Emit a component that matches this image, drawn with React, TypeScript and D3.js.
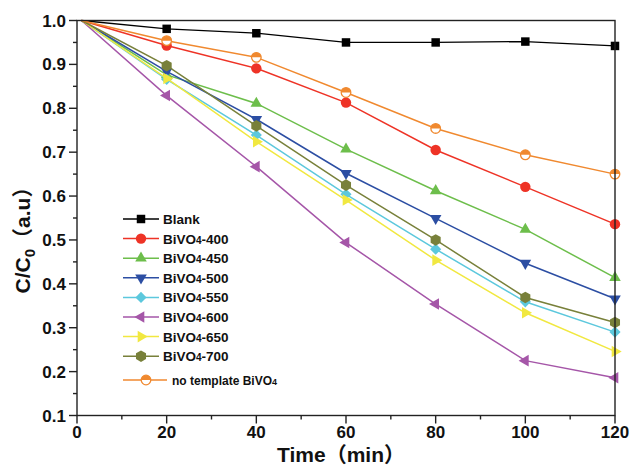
import React from 'react';
import * as d3 from 'd3';

const times = [1, 20, 40, 60, 80, 100, 120];
const blank = [1.0, 0.981, 0.971, 0.95, 0.95, 0.952, 0.942];
const b400 = [1.0, 0.943, 0.891, 0.813, 0.705, 0.621, 0.536];
const b450 = [1.0, 0.876, 0.811, 0.707, 0.612, 0.524, 0.414];
const b500 = [1.0, 0.884, 0.775, 0.652, 0.549, 0.447, 0.366];
const b550 = [1.0, 0.866, 0.739, 0.604, 0.479, 0.359, 0.29];
const b600 = [1.0, 0.829, 0.667, 0.494, 0.354, 0.225, 0.186];
const b650 = [1.0, 0.868, 0.724, 0.591, 0.454, 0.334, 0.246];
const b700 = [1.0, 0.897, 0.76, 0.625, 0.5, 0.369, 0.312];
const noTemplate = [1.0, 0.954, 0.916, 0.836, 0.754, 0.694, 0.65];

const xTicks = [0, 20, 40, 60, 80, 100, 120];
const xMinor = [10, 30, 50, 70, 90, 110];
const yTicks = [0.1, 0.2, 0.3, 0.4, 0.5, 0.6, 0.7, 0.8, 0.9, 1.0];
const yMinor = [0.15, 0.25, 0.35, 0.45, 0.55, 0.65, 0.75, 0.85, 0.95];

type S = { name: string; sub?: string; tail?: string; values: number[]; color: string; marker: string };
const series: S[] = [
  { name: 'Blank', values: blank, color: '#000000', marker: 'square' },
  { name: 'BiVO', sub: '4', tail: '-400', values: b400, color: '#EE3326', marker: 'circle' },
  { name: 'BiVO', sub: '4', tail: '-450', values: b450, color: '#6DBE4B', marker: 'triUp' },
  { name: 'BiVO', sub: '4', tail: '-500', values: b500, color: '#2C4EA3', marker: 'triDown' },
  { name: 'BiVO', sub: '4', tail: '-550', values: b550, color: '#5CC8DD', marker: 'diamond' },
  { name: 'BiVO', sub: '4', tail: '-600', values: b600, color: '#A556A8', marker: 'triLeft' },
  { name: 'BiVO', sub: '4', tail: '-650', values: b650, color: '#F1E840', marker: 'triRight' },
  { name: 'BiVO', sub: '4', tail: '-700', values: b700, color: '#78803A', marker: 'hexagon' },
  { name: 'no template BiVO', sub: '4', tail: '', values: noTemplate, color: '#F0892F', marker: 'half' },
];

const FONT = "'Liberation Sans', Arial, 'Noto Sans CJK SC', sans-serif";

const L = 77, R = 615, T = 20.5, B = 415.5;
const x = d3.scaleLinear().domain([0, 120]).range([L, R]);
const y = d3.scaleLinear().domain([0.1, 1.0]).range([B, T]);

function Marker({ kind, color, cx, cy }: { kind: string; color: string; cx: number; cy: number }) {
  const tr = `translate(${cx},${cy})`;
  const tri = d3.symbol().type(d3.symbolTriangle).size(58)() as string;
  if (kind === 'square') {
    return <path d={d3.symbol().type(d3.symbolSquare).size(72)() as string} transform={tr} fill={color} />;
  }
  if (kind === 'circle') {
    return <circle cx={cx} cy={cy} r={5.2} fill={color} />;
  }
  if (kind === 'triUp') return <path d={tri} transform={tr} fill={color} />;
  if (kind === 'triDown') return <path d={tri} transform={`${tr} rotate(180)`} fill={color} />;
  if (kind === 'triLeft') return <path d={tri} transform={`${tr} rotate(-90)`} fill={color} />;
  if (kind === 'triRight') return <path d={tri} transform={`${tr} rotate(90)`} fill={color} />;
  if (kind === 'diamond') {
    return <path d={d3.symbol().type(d3.symbolSquare).size(62)() as string} transform={`${tr} rotate(45)`} fill={color} />;
  }
  if (kind === 'hexagon') {
    const r = 5.8;
    const pts = d3.range(6).map((i) => {
      const a = (Math.PI / 3) * i + Math.PI / 6;
      return [r * Math.cos(a), r * Math.sin(a)];
    });
    return <path d={'M' + pts.map((p) => p.join(',')).join('L') + 'Z'} transform={tr} fill={color} />;
  }
  // half-filled circle
  const r = 4.8;
  return (
    <g transform={tr}>
      <circle r={r} fill="#fff" stroke={color} strokeWidth={1.3} />
      <path d={`M${-r},0 A${r},${r} 0 0 1 ${r},0 Z`} fill={color} />
    </g>
  );
}

export default function App() {
  const line = d3
    .line<number>()
    .x((_, i) => x(times[i]))
    .y((d) => y(d));

  return (
    <svg width={633} height={466} style={{ position: 'absolute', left: 0, top: 0, background: '#fff' }} fontFamily={FONT}>
      <rect x={0} y={0} width={633} height={466} fill="#fff" />
      {/* data */}
      {series.map((s, si) => (
        <g key={si}>
          <path d={line(s.values) as string} fill="none" stroke={s.color} strokeWidth={si === 0 ? 1.3 : 1.5} />
          {s.values.map((v, i) =>
            i === 0 ? null : <Marker key={i} kind={s.marker} color={s.color} cx={x(times[i])} cy={y(v)} />
          )}
        </g>
      ))}
      {/* frame */}
      <rect x={L} y={T} width={R - L} height={B - T} fill="none" stroke="#222" strokeWidth={1.4} />
      {/* x ticks */}
      {xTicks.map((t) => (
        <g key={'xt' + t}>
          <line x1={x(t)} x2={x(t)} y1={B} y2={B + 8} stroke="#222" strokeWidth={1.4} />
          <text x={x(t)} y={438} textAnchor="middle" fontSize={17} fontWeight="bold" fill="#111">
            {t}
          </text>
        </g>
      ))}
      {xMinor.map((t) => (
        <line key={'xm' + t} x1={x(t)} x2={x(t)} y1={B} y2={B + 4} stroke="#222" strokeWidth={1.4} />
      ))}
      {/* y ticks */}
      {yTicks.map((t) => (
        <g key={'yt' + t}>
          <line x1={L - 8} x2={L} y1={y(t)} y2={y(t)} stroke="#222" strokeWidth={1.4} />
          <text x={66} y={y(t) + 6} textAnchor="end" fontSize={17} fontWeight="bold" fill="#111">
            {t.toFixed(1)}
          </text>
        </g>
      ))}
      {yMinor.map((t) => (
        <line key={'ym' + t} x1={L - 4} x2={L} y1={y(t)} y2={y(t)} stroke="#222" strokeWidth={1.4} />
      ))}
      {/* axis titles */}
      <text x={341} y={462} textAnchor="middle" fontSize={21} fontWeight="bold" fill="#111">
        Time（min）
      </text>
      <text transform="translate(30,235) rotate(-90)" textAnchor="middle" fontSize={21} fontWeight="bold" fill="#111">
        C/C<tspan fontSize={15} dy={5}>0</tspan>
        <tspan dy={-5}>（a.u）</tspan>
      </text>
      {/* legend */}
      {series.map((s, i) => {
        const last = i === series.length - 1;
        const ly = last ? 380 : 219 + i * 19.6;
        const x1 = 123;
        const x2 = last ? 167 : 159;
        const mx = last ? 146 : 141;
        const tx = last ? 172 : 163;
        return (
          <g key={'lg' + i}>
            <line x1={x1} x2={x2} y1={ly} y2={ly} stroke={s.color} strokeWidth={1.5} />
            <Marker kind={s.marker} color={s.color} cx={mx} cy={ly} />
            <text x={tx} y={ly + 5} fontSize={last ? 12 : 13.5} fontWeight="bold" fill="#111">
              {s.name}
              {s.sub ? <tspan fontSize={last ? 9 : 10}>{s.sub}</tspan> : null}
              {s.tail}
            </text>
          </g>
        );
      })}
    </svg>
  );
}
